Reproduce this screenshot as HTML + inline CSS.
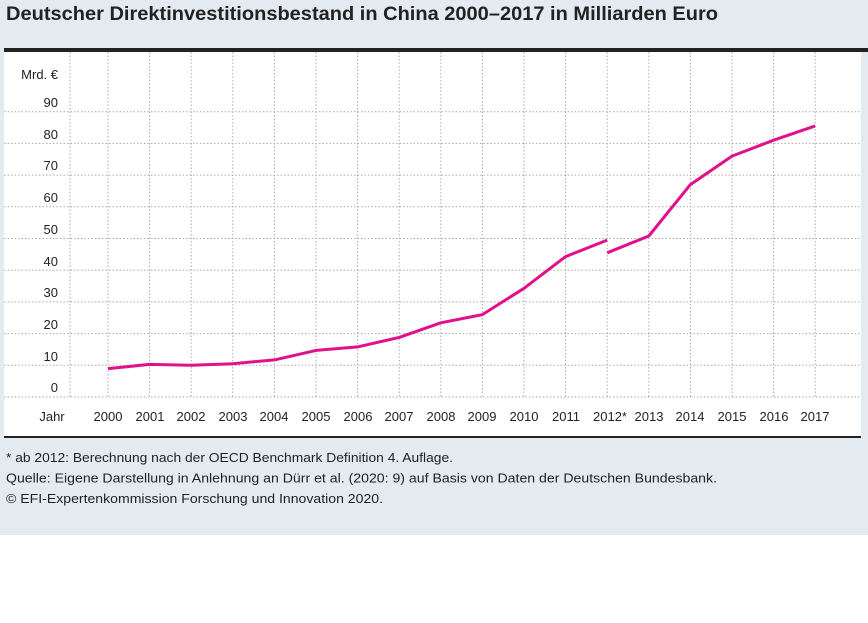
<!DOCTYPE html>
<html><head><meta charset="utf-8"><style>
body{margin:0;width:868px;height:618px;background:#fff;font-family:"Liberation Sans",sans-serif;overflow:hidden}
</style></head><body>
<svg width="868" height="618" xmlns="http://www.w3.org/2000/svg" font-family="Liberation Sans, sans-serif">
<rect x="0" y="0" width="868" height="535" fill="#e3ebf1"/>
<rect x="4" y="50" width="857" height="387" fill="#fff"/>
<text x="6" y="20" font-size="19" font-weight="600" fill="#222" textLength="712" lengthAdjust="spacingAndGlyphs">Deutscher Direktinvestitionsbestand in China 2000–2017 in Milliarden Euro</text>
<rect x="4" y="48" width="864" height="4" fill="#222"/>
<g stroke="#aaa" stroke-width="1" stroke-dasharray="1.5,2">
<line x1="70" y1="52" x2="70" y2="397"/>
</g>
<g stroke="#aaa" stroke-width="1" stroke-dasharray="1.5,2" id="gridv"></g>
<g stroke="#aaa" stroke-width="1" stroke-dasharray="1.5,2" id="gridh"></g>
<script>
var ns="http://www.w3.org/2000/svg";
var gv=document.getElementById("gridv"),gh=document.getElementById("gridh");
for(var i=0;i<18;i++){var x=108+i*41.6;var l=document.createElementNS(ns,"line");l.setAttribute("x1",x);l.setAttribute("x2",x);l.setAttribute("y1",52);l.setAttribute("y2",397);gv.appendChild(l);}
for(var j=0;j<10;j++){var y=397-j*31.7;var l=document.createElementNS(ns,"line");l.setAttribute("x1",4);l.setAttribute("x2",860);l.setAttribute("y1",y);l.setAttribute("y2",y);gh.appendChild(l);}
</script>
<g font-size="13" fill="#222" text-anchor="end">
<text x="58" y="79">Mrd. €</text>
<text x="58" y="107">90</text><text x="58" y="139">80</text><text x="58" y="170">70</text><text x="58" y="202">60</text><text x="58" y="234">50</text><text x="58" y="266">40</text><text x="58" y="297">30</text><text x="58" y="329">20</text><text x="58" y="361">10</text><text x="58" y="392">0</text>
</g>
<g font-size="13" fill="#222" text-anchor="middle">
<text x="52" y="421">Jahr</text>
<text x="108" y="421">2000</text><text x="150" y="421">2001</text><text x="191" y="421">2002</text><text x="233" y="421">2003</text><text x="274" y="421">2004</text><text x="316" y="421">2005</text><text x="358" y="421">2006</text><text x="399" y="421">2007</text><text x="441" y="421">2008</text><text x="482" y="421">2009</text><text x="524" y="421">2010</text><text x="566" y="421">2011</text><text x="610" y="421">2012*</text><text x="649" y="421">2013</text><text x="690" y="421">2014</text><text x="732" y="421">2015</text><text x="774" y="421">2016</text><text x="815" y="421">2017</text>
</g>
<g fill="none" stroke="#e0118a" stroke-width="3" stroke-linejoin="round">
<polyline points="108,368.6 149.6,364.4 191.2,365.3 232.8,363.7 274.4,359.9 316,350.4 357.6,346.9 399.2,337.4 440.8,322.8 482.4,314.6 524,288.3 565.6,256.6 607.2,240.1"/>
<polyline points="607.2,252.8 648.8,236 690.4,184.6 732,156.1 773.6,140.2 815.2,125.9"/>
</g>
<rect x="4" y="436" width="857" height="2" fill="#222"/>
<g font-size="13" fill="#222">
<text x="6" y="462" textLength="447" lengthAdjust="spacingAndGlyphs">* ab 2012: Berechnung nach der OECD Benchmark Definition 4. Auflage.</text>
<text x="6" y="482.5" textLength="711" lengthAdjust="spacingAndGlyphs">Quelle: Eigene Darstellung in Anlehnung an Dürr et al. (2020: 9) auf Basis von Daten der Deutschen Bundesbank.</text>
<text x="6" y="503" textLength="377" lengthAdjust="spacingAndGlyphs">© EFI-Expertenkommission Forschung und Innovation 2020.</text>
</g>
</svg>
</body></html>
